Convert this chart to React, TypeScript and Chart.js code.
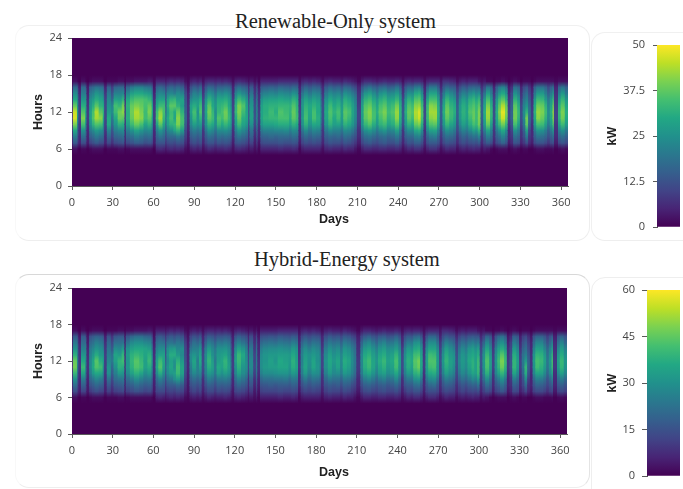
import React, { useEffect, useRef } from "react";
import { Chart, registerables } from "chart.js";

Chart.register(...registerables);

const xTicks = [0, 30, 60, 90, 120, 150, 180, 210, 240, 270, 300, 330, 360];
const yTicks = [0, 6, 12, 18, 24];
const kwTicksRenewable = [0, 12.5, 25, 37.5, 50];
const kwTicksHybrid = [0, 15, 30, 45, 60];
const viridis = ["#440154", "#482475", "#414487", "#355f8d", "#2a788e", "#21918c", "#22a884", "#44bf70", "#7ad151", "#bddf26", "#fde725"];

// first day of each column of the heat map
const columnDays = [0, 1, 4, 5, 7, 10, 11, 13, 15, 17, 20, 23, 24, 26, 29, 31, 34, 37, 39, 40, 43, 46, 50, 53, 56, 59, 60, 62, 64, 67, 69, 70, 72, 75, 77, 80, 83, 85, 87, 89, 92, 94, 96, 98, 100, 103, 105, 107, 110, 112, 115, 117, 118, 120, 122, 125, 128, 130, 131, 134, 136, 137, 139, 141, 145, 149, 152, 156, 160, 162, 165, 167, 169, 171, 174, 177, 180, 183, 184, 186, 189, 192, 195, 198, 200, 203, 206, 208, 210, 213, 215, 218, 221, 224, 226, 229, 232, 235, 238, 241, 243, 245, 247, 250, 252, 255, 257, 259, 261, 263, 266, 269, 271, 273, 275, 278, 281, 283, 285, 287, 290, 292, 295, 297, 299, 301, 303, 305, 308, 310, 312, 314, 316, 319, 321, 323, 325, 328, 330, 332, 334, 336, 338, 340, 342, 345, 348, 350, 352, 354, 355, 358, 360, 363];
const yearEnd = 365;
// kW at hours 6,7,...,17 for each column
const renewableKw = [
[0,4,5,6,7,7,6,5,5,4,3,0],[2,14,21,30,40,47,46,38,30,24,17,2],[1,10,15,18,23,26,28,26,24,19,14,1],[0,5,6,7,8,10,10,9,8,6,4,0],[1,12,18,25,35,40,36,31,26,21,17,2],[1,11,16,20,26,29,30,30,26,21,15,1],[0,4,5,6,8,9,9,8,7,5,4,0],[1,10,15,20,25,28,28,26,24,20,15,1],[2,12,17,23,32,36,35,31,27,22,17,2],[2,14,20,27,36,43,44,37,31,26,19,2],
[2,12,18,25,35,41,37,32,29,24,18,2],[1,11,16,20,25,29,32,30,25,20,15,1],[0,5,6,8,10,11,11,11,10,8,5,0],[1,11,16,22,30,30,27,25,23,20,15,1],[1,7,10,13,17,20,24,22,17,13,9,1],[1,11,16,21,26,30,34,35,29,22,16,1],[2,12,17,23,32,38,39,33,28,22,17,2],[2,13,18,24,31,37,41,39,32,23,17,2],[0,4,5,6,7,8,8,7,6,5,3,0],[1,11,16,21,28,31,31,32,30,23,16,2],
[2,13,18,25,34,38,39,38,34,28,20,2],[2,15,21,29,38,43,44,40,36,30,22,3],[2,14,19,26,35,41,40,38,36,30,22,3],[2,12,17,23,29,34,34,35,35,28,20,3],[2,13,18,24,32,37,40,38,33,27,19,4],[1,10,14,18,23,26,29,28,23,18,13,3],[0,4,5,6,8,9,9,8,7,5,3,1],[5,12,16,21,29,35,34,30,26,21,15,5],[6,13,19,26,37,43,41,34,29,23,17,5],[5,13,17,22,29,33,35,34,29,22,15,5],
[3,7,10,13,17,20,17,14,13,12,9,3],[5,11,16,22,28,30,28,31,29,22,15,5],[6,12,17,24,32,35,34,37,32,23,17,6],[5,11,17,29,33,29,30,37,33,21,15,5],[6,13,20,32,40,41,38,32,28,24,17,6],[5,12,17,27,34,35,32,28,29,22,15,5],[2,6,9,11,14,16,15,14,13,11,7,2],[1,3,4,5,6,7,7,7,6,5,3,1],[4,10,14,18,23,25,28,28,23,17,12,4],[5,12,16,21,28,33,35,31,26,22,15,5],
[4,10,14,19,25,26,25,28,26,20,13,4],[5,12,16,21,27,32,36,34,30,23,16,5],[2,5,7,8,12,14,14,13,11,8,6,2],[4,10,14,19,25,27,29,28,25,19,13,5],[6,13,18,25,32,37,39,37,32,25,17,6],[5,13,17,23,30,34,33,30,28,23,16,6],[4,10,14,19,24,25,24,26,24,19,13,5],[5,13,18,24,33,36,33,32,30,24,16,6],[5,12,17,24,30,34,35,33,30,23,16,5],[6,13,18,25,33,38,39,35,31,25,17,6],
[5,12,17,23,30,33,32,30,28,23,16,5],[4,9,14,19,25,26,26,24,22,18,13,4],[2,4,6,7,9,11,11,10,9,7,5,2],[5,12,16,21,27,30,33,32,28,22,15,5],[6,13,19,26,34,38,40,40,34,26,18,6],[5,12,17,23,29,31,34,36,31,23,16,5],[4,10,15,20,26,29,29,28,26,20,14,4],[2,5,7,8,11,13,13,13,10,8,6,2],[4,10,15,19,25,28,28,26,24,19,14,4],[2,4,6,8,11,13,12,12,10,8,6,2],
[4,9,13,17,22,24,24,23,21,17,12,4],[1,3,5,6,8,9,9,8,7,6,4,1],[5,11,15,20,26,29,29,28,25,20,14,5],[5,12,16,22,29,32,31,31,28,22,15,5],[5,12,17,22,29,33,34,32,29,23,16,5],[5,12,16,23,30,33,31,32,29,22,15,5],[6,13,17,23,31,35,36,33,30,24,17,6],[5,12,17,24,31,35,34,33,29,23,16,6],[5,12,16,21,28,31,32,32,28,22,15,6],[6,13,18,24,32,37,38,36,32,25,17,6],
[5,12,17,23,30,34,33,32,30,23,16,6],[1,4,6,7,8,10,10,9,8,7,5,2],[4,10,14,19,25,27,26,26,24,19,13,5],[5,12,17,24,32,35,34,32,29,23,16,6],[5,11,15,20,26,29,30,30,26,20,14,5],[5,12,17,23,30,35,35,32,29,23,16,6],[5,11,16,22,29,31,30,30,27,22,15,5],[4,10,14,18,23,25,26,24,22,18,12,4],[2,5,7,8,10,12,12,12,10,8,6,2],[5,11,15,20,26,29,30,28,25,20,14,5],
[6,13,17,24,32,35,36,34,30,24,17,6],[5,12,16,22,28,30,32,30,27,22,15,5],[5,12,17,22,29,34,35,32,29,23,16,5],[4,10,14,19,25,27,28,27,24,19,13,4],[6,13,18,24,32,36,37,34,31,25,17,6],[5,12,17,23,30,33,35,32,29,23,16,5],[5,10,14,20,26,28,29,28,25,20,13,4],[3,8,12,16,21,23,24,23,21,17,11,3],[1,4,6,7,9,10,10,9,8,7,5,1],[4,10,14,19,25,27,28,27,24,19,13,4],
[6,13,18,25,33,37,38,36,32,26,17,6],[6,14,19,27,36,40,41,38,34,28,19,6],[5,12,17,24,31,35,35,33,30,24,16,5],[5,11,15,20,26,29,31,29,26,20,14,4],[6,13,17,24,32,35,37,35,31,25,17,5],[6,14,18,26,34,38,40,37,33,27,18,6],[5,12,16,22,29,32,34,32,29,23,15,5],[5,12,17,23,31,34,36,34,30,24,16,5],[6,14,20,28,36,41,42,39,33,27,19,6],[5,11,16,21,28,31,32,31,27,22,15,5],
[2,5,7,8,12,14,14,13,11,8,6,2],[4,10,15,20,26,29,31,29,26,20,14,5],[6,13,17,24,32,37,38,36,32,25,17,6],[5,12,17,23,30,34,36,34,30,24,16,5],[7,15,21,30,38,43,44,41,36,30,20,6],[7,15,22,31,40,46,47,42,37,31,21,6],[5,12,17,24,31,35,36,34,30,24,16,5],[2,5,7,7,9,11,11,10,9,7,5,2],[5,12,16,23,30,33,34,33,29,23,15,5],[7,14,20,28,36,41,43,41,35,29,20,6],
[7,14,21,29,37,42,43,40,35,29,20,6],[5,12,16,22,29,31,32,31,28,22,15,6],[2,6,8,10,13,14,15,14,12,10,6,3],[4,11,15,20,26,29,31,29,26,20,14,7],[6,13,18,25,33,37,39,37,33,26,17,7],[5,12,17,23,29,33,34,32,29,23,15,6],[5,11,15,20,26,29,31,30,26,20,14,5],[2,6,8,11,13,15,16,15,13,11,7,2],[4,10,13,18,23,26,27,26,23,18,12,4],[5,12,16,22,28,31,32,31,28,22,15,5],
[4,10,14,20,25,28,29,28,25,20,13,4],[5,12,17,24,31,34,36,34,31,24,16,5],[6,13,19,28,35,38,38,36,33,26,17,5],[5,12,18,26,33,34,34,33,30,23,16,5],[5,14,22,32,39,40,40,37,33,25,16,3],[2,6,8,11,13,15,16,15,13,11,7,2],[4,11,15,21,27,30,31,29,26,19,12,3],[3,14,21,29,38,42,43,40,35,28,19,1],[1,12,17,22,28,32,33,31,27,21,16,1],[0,5,7,8,10,12,12,11,10,8,5,0],
[1,11,15,20,27,30,31,29,26,20,15,1],[2,13,18,25,34,39,41,38,34,27,20,1],[2,16,22,30,39,46,48,44,37,30,22,2],[2,13,18,24,33,38,40,38,32,25,18,1],[0,4,6,6,8,10,10,9,8,6,4,0],[1,6,8,10,13,16,16,15,13,11,7,1],[2,13,18,25,35,39,39,37,32,25,18,2],[1,12,16,21,28,32,33,31,27,21,16,1],[0,5,7,8,10,12,12,11,9,7,5,0],[1,8,12,15,20,23,24,22,19,15,11,1],
[1,12,20,28,37,39,32,26,22,18,13,1],[0,6,8,11,16,18,19,17,14,11,8,1],[0,4,6,6,7,9,9,8,7,6,4,0],[1,11,15,20,27,30,32,30,26,20,15,1],[2,13,19,26,35,41,42,39,34,27,19,2],[2,13,18,25,34,38,40,38,33,27,19,2],[1,11,16,21,28,32,34,32,27,21,16,2],[1,8,12,15,20,23,24,22,20,15,11,2],[1,11,15,20,27,30,31,29,26,20,15,2],[2,13,19,27,36,41,42,39,34,27,19,2],
[0,4,6,7,8,10,10,9,8,7,5,1],[1,11,16,21,28,32,33,31,27,21,16,2],[2,13,18,25,34,39,40,37,33,27,19,2],[1,11,15,20,27,30,31,29,26,20,15,2]
];
const hybridKw = renewableKw;

const rgbOf = (hex: string) => [1, 3, 5].map((i) => parseInt(hex.slice(i, i + 2), 16));
function colourFor(fraction: number) {
  const t = Math.max(0, Math.min(1, fraction)) * (viridis.length - 1);
  const i = Math.min(Math.floor(t), viridis.length - 2);
  const a = rgbOf(viridis[i]);
  const b = rgbOf(viridis[i + 1]);
  const c = a.map((v, k) => Math.round(v + (b[k] - v) * (t - i)));
  return `rgb(${c[0]},${c[1]},${c[2]})`;
}

function buildCells(table: number[][]) {
  const cells: any[] = [];
  table.forEach((col, i) => {
    const stops = [0, ...col, 0];
    const from = columnDays[i];
    const to = i + 1 < columnDays.length ? columnDays[i + 1] : yearEnd;
    stops.slice(0, -1).forEach((v, k) => {
      const hour = 5 + k;
      cells.push({ x: [from, to], y: hour + 0.5, hour, low: v, high: stops[k + 1] });
    });
  });
  return cells;
}

const softenPlugin = {
  id: "soften",
  afterDatasetsDraw(chart: any) {
    const { ctx, chartArea: a, canvas } = chart;
    const w = a.right - a.left;
    const h = a.bottom - a.top;
    ctx.save();
    ctx.beginPath();
    ctx.rect(a.left, a.top, w, h);
    ctx.clip();
    ctx.filter = "blur(0.5px)";
    ctx.drawImage(canvas, a.left, a.top, w, h, a.left, a.top, w, h);
    ctx.restore();
  },
};
const nightPlugin = {
  id: "night",
  beforeDatasetsDraw(chart: any) {
    const { ctx, chartArea: a } = chart;
    ctx.save();
    ctx.fillStyle = viridis[0];
    ctx.fillRect(a.left, a.top, a.right - a.left, a.bottom - a.top);
    ctx.restore();
  },
};

const tickFont = { family: "'Open Sans'", size: 11 };
const titleFont = { family: "'Liberation Sans'", size: 12.5, weight: "bold" as const };
const axisColour = "#5a5a5a";

function Heatmap({ table, maxKw, style, width, height, axisH, right }: any) {
  const ref = useRef<HTMLCanvasElement>(null);
  useEffect(() => {
    const chart = new Chart(ref.current!, {
      type: "bar",
      data: {
        datasets: [{
          data: buildCells(table),
          backgroundColor: (c: any) => {
            const raw = c.raw;
            const y = c.chart.scales.y;
            if (!raw || !y) return viridis[0];
            const y0 = y.getPixelForValue(raw.hour);
            const y1 = y.getPixelForValue(raw.hour + 1);
            if (!isFinite(y0) || !isFinite(y1)) return viridis[0];
            const g = c.chart.ctx.createLinearGradient(0, y0, 0, y1);
            g.addColorStop(0, colourFor(raw.low / maxKw));
            g.addColorStop(1, colourFor(raw.high / maxKw));
            return g;
          },
          borderWidth: 0,
          inflateAmount: 0.5,
          categoryPercentage: 1,
          barPercentage: 1,
        }] as any,
      },
      options: {
        indexAxis: "y",
        animation: false,
        responsive: false,
        events: [],
        layout: { padding: { top: 10, left: 0, right, bottom: 0 } },
        plugins: { legend: { display: false }, tooltip: { enabled: false } },
        scales: {
          x: {
            type: "linear", min: 0, max: yearEnd, offset: false,
            afterBuildTicks: (s: any) => { s.ticks = xTicks.map((value) => ({ value })); },
            afterFit: (s: any) => { s.height = axisH; s.paddingLeft = 0; s.paddingRight = 0; },
            ticks: { font: tickFont, color: "#444", padding: 6, maxRotation: 0, autoSkip: false },
            grid: { drawOnChartArea: false, tickLength: 4, color: axisColour },
            border: { color: axisColour },
          },
          y: {
            type: "linear", min: 0, max: 24, offset: false,
            afterBuildTicks: (s: any) => { s.ticks = yTicks.map((value) => ({ value })); },
            afterFit: (s: any) => { s.width = 41; s.paddingTop = 0; s.paddingBottom = 0; },
            ticks: { font: tickFont, color: "#444", padding: 6, autoSkip: false },
            grid: { drawOnChartArea: false, offset: false, tickLength: 4, color: axisColour },
            border: { color: axisColour },
            title: { display: true, text: "Hours", font: titleFont, color: "#222", padding: { top: 0, bottom: 0 } },
          },
        },
      } as any,
      plugins: [nightPlugin, softenPlugin],
    });
    return () => chart.destroy();
  }, []);
  return <canvas ref={ref} width={width} height={height} style={{ position: "absolute", ...style }} />;
}

function ColourBar({ ticks, style, width, height, barLeft, padTop, padBottom, tickLength, tickPad }: any) {
  const ref = useRef<HTMLCanvasElement>(null);
  const maxKw = ticks[ticks.length - 1];
  useEffect(() => {
    const chart = new Chart(ref.current!, {
      type: "bar",
      data: {
        labels: ["kW"],
        datasets: [{
          data: [[0, maxKw]],
          backgroundColor: (c: any) => {
            const y = c.chart.scales.y;
            if (!y) return viridis[0];
            const y0 = y.getPixelForValue(0);
            const y1 = y.getPixelForValue(maxKw);
            if (!isFinite(y0) || !isFinite(y1)) return viridis[0];
            const g = c.chart.ctx.createLinearGradient(0, y0, 0, y1);
            viridis.forEach((hex, i) => g.addColorStop(i / (viridis.length - 1), hex));
            return g;
          },
          borderWidth: 0,
          categoryPercentage: 1,
          barPercentage: 1,
        }],
      },
      options: {
        animation: false,
        responsive: false,
        events: [],
        layout: { padding: { top: padTop, bottom: padBottom, left: 0, right: 3 } },
        plugins: { legend: { display: false }, tooltip: { enabled: false } },
        scales: {
          x: { display: false, offset: true },
          y: {
            type: "linear", min: 0, max: maxKw,
            afterBuildTicks: (s: any) => { s.ticks = ticks.map((value: number) => ({ value })); },
            afterFit: (s: any) => { s.width = barLeft; s.paddingTop = 0; s.paddingBottom = 0; },
            ticks: { font: tickFont, color: "#444", padding: tickPad, autoSkip: false },
            grid: { drawOnChartArea: false, tickLength, color: axisColour },
            border: { color: axisColour },
            title: { display: true, text: "kW", font: titleFont, color: "#222", padding: { top: 0, bottom: 0 } },
          },
        },
      } as any,
    });
    return () => chart.destroy();
  }, []);
  return <canvas ref={ref} width={width} height={height} style={{ position: "absolute", ...style }} />;
}

const panel = (left: number, top: number, width: number, height: number, sides: string[]): React.CSSProperties => ({
  position: "absolute", left, top, width, height, borderStyle: "solid", borderWidth: 1,
  borderTopColor: sides[0], borderRightColor: sides[1], borderBottomColor: sides[2], borderLeftColor: sides[3],
  borderRadius: 14, boxSizing: "border-box",
});
const heading: React.CSSProperties = {
  position: "absolute", fontFamily: "'Liberation Serif'", fontSize: 20.5, color: "#222", whiteSpace: "nowrap", lineHeight: "24px",
};
const daysLabel: React.CSSProperties = {
  position: "absolute", fontFamily: "'Liberation Sans'", fontWeight: "bold", fontSize: 12.5, color: "#222", lineHeight: "16px",
};

export default function App() {
  return (
    <div style={{ position: "absolute", left: 0, top: 0, width: 683, height: 489, overflow: "hidden", background: "#fff", filter: "blur(0.35px)" }}>
      <div style={panel(15, 25, 575, 216, ["#f0f0f0", "#eeeeee", "#eeeeee", "#f8f8f8"])} />
      <div style={panel(591, 32, 110, 209, ["#f0f0f0", "#f0f0f0", "#eeeeee", "#f0f0f0"])} />
      <div style={panel(15, 274, 575, 214, ["#d8d8d8", "#e4e4e4", "#eeeeee", "#f8f8f8"])} />
      <div style={panel(591, 277, 110, 230, ["#eeeeee", "#eeeeee", "#eeeeee", "#eeeeee"])} />
      <div style={{ ...heading, left: 235, top: 9 }}>Renewable-Only system</div>
      <div style={{ ...heading, left: 254, top: 247 }}>Hybrid-Energy system</div>
      <Heatmap table={renewableKw} maxKw={50} width={549} height={210} axisH={52} right={12} style={{ left: 31, top: 28 }} />
      <Heatmap table={hybridKw} maxKw={60} width={549} height={208} axisH={52} right={13} style={{ left: 31, top: 278 }} />
      <div style={{ ...daysLabel, left: 319, top: 211 }}>Days</div>
      <div style={{ ...daysLabel, left: 319, top: 464 }}>Days</div>
      <ColourBar ticks={kwTicksRenewable} width={78} height={200} barLeft={52} padTop={10} padBottom={8} tickLength={4} tickPad={8} style={{ left: 605, top: 35 }} />
      <ColourBar ticks={kwTicksHybrid} width={78} height={204} barLeft={42} padTop={10} padBottom={8} tickLength={5} tickPad={7} style={{ left: 605, top: 280 }} />
    </div>
  );
}
